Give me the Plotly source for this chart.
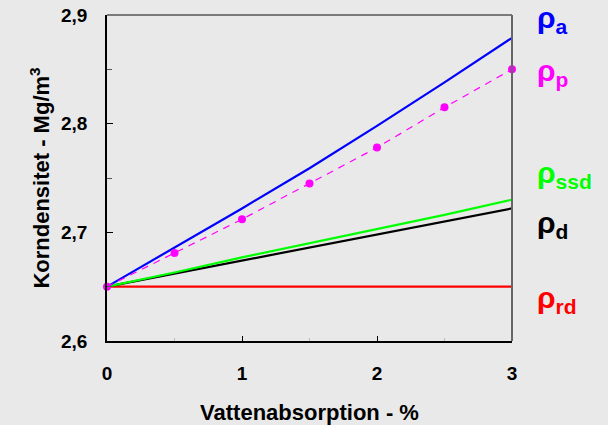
import plotly.graph_objects as go

# Data
wa = [0, 0.5, 1, 1.5, 2, 2.5, 3]
rho_a = [2.65, 2.686, 2.722, 2.759, 2.798, 2.838, 2.879]
rho_p = [2.65, 2.681, 2.712, 2.745, 2.778, 2.815, 2.85]
rho_ssd = [2.65, 2.663, 2.677, 2.690, 2.703, 2.716, 2.730]
rho_d = [2.65, 2.662, 2.674, 2.686, 2.698, 2.710, 2.722]
rho_rd = [2.65, 2.65, 2.65, 2.65, 2.65, 2.65, 2.65]

labels = ["ρ<sub>a</sub>", "ρ<sub>p</sub>", "ρ<sub>ssd</sub>", "ρ<sub>d</sub>", "ρ<sub>rd</sub>"]
label_y = [2.896, 2.847, 2.753, 2.707, 2.638]
colors = ["#0000ff", "#ff00ff", "#00ff00", "#000000", "#ff0000"]

bg = "#e9e9e9"
FAM = "Arial, Liberation Sans"
tickfnt = dict(family=FAM, size=19, color="black", weight="bold")
titlefnt = dict(family=FAM, size=22, color="black", weight="bold")

fig = go.Figure()
fig.add_trace(go.Scatter(x=wa, y=rho_rd, mode="lines", line=dict(color="#ff0000", width=2.4)))
fig.add_trace(go.Scatter(x=wa, y=rho_d, mode="lines", line=dict(color="#000000", width=2.2)))
fig.add_trace(go.Scatter(x=wa, y=rho_ssd, mode="lines", line=dict(color="#00ff00", width=2.2)))
fig.add_trace(go.Scatter(x=wa, y=rho_a, mode="lines", line=dict(color="#0000ff", width=2.2)))
fig.add_trace(go.Scatter(x=wa, y=rho_p, mode="lines+markers",
                         line=dict(color="#ff00ff", width=1.2, dash="7px,6px"),
                         marker=dict(color="#ff00ff", size=8), cliponaxis=False))

for lab, ly, c in zip(labels, label_y, colors):
    fig.add_annotation(x=1.0, xref="paper", xanchor="left", xshift=23, y=ly, yref="y",
                       text=lab, showarrow=False,
                       font=dict(family=FAM, size=30, color=c, weight="bold"))

# top and right frame lines (grey)
fig.add_shape(type="line", xref="paper", yref="paper", x0=0, x1=1, y0=1, y1=1,
              line=dict(color="#555555", width=1.5))
fig.add_shape(type="line", xref="paper", yref="paper", x0=1, x1=1, y0=0, y1=1,
              line=dict(color="#666666", width=2))

fig.update_layout(
    width=608, height=425,
    margin=dict(l=107, r=96, t=15, b=84),
    paper_bgcolor=bg, plot_bgcolor=bg,
    showlegend=False,
    separators=", ",
    font=tickfnt,
)
fig.update_xaxes(range=[0, 3], tickvals=[0, 1, 2, 3], ticktext=["0", "1", "2", "3"],
                 ticks="inside", ticklen=5, tickcolor="black",
                 showgrid=False, zeroline=False, automargin=False,
                 showline=True, linecolor="black", linewidth=1.5,
                 ticklabelstandoff=14, tickfont=tickfnt,
                 minor=dict(dtick=0.5, ticks="inside", ticklen=3, tickcolor="#bbbbbb"),
                 title=dict(text="Vattenabsorption - %", font=titlefnt, standoff=22))
fig.update_yaxes(range=[2.6, 2.9], tickvals=[2.6, 2.7, 2.8, 2.9], tickformat=".1f",
                 ticks="inside", ticklen=6, tickcolor="black",
                 showgrid=False, zeroline=False, automargin=False,
                 showline=True, linecolor="black", linewidth=1.5,
                 ticklabelstandoff=14, tickfont=tickfnt,
                 minor=dict(dtick=0.05, ticks="inside", ticklen=5, tickcolor="#555555"),
                 title=dict(text="Korndensitet - Mg/m<sup>3</sup>", font=titlefnt, standoff=5))

fig.write_html("out.html", config={"displayModeBar": False},
               post_script="document.body.style.margin='0';document.body.style.overflow='hidden';")
